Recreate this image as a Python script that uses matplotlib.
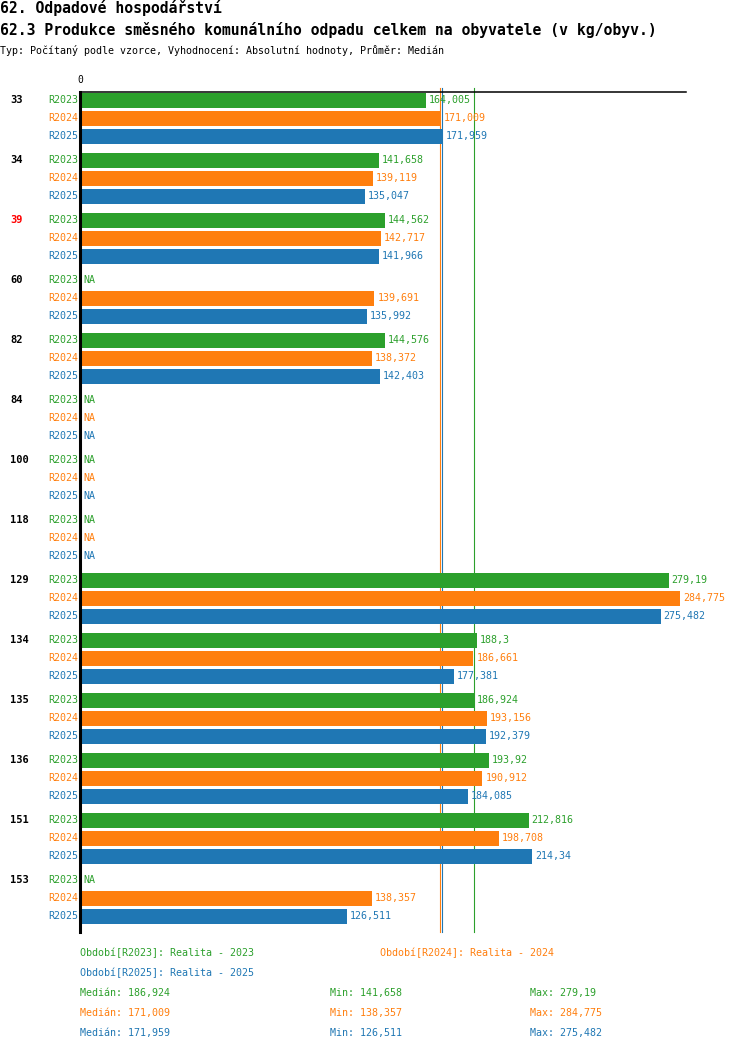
import numpy as np
import matplotlib
matplotlib.use("Agg")
import matplotlib.pyplot as plt

# Data (NaN = NA)
groups = ["33", "34", "39", "60", "82", "84", "100", "118", "129", "134", "135", "136", "151", "153"]
highlight = "39"
series_names = ["R2023", "R2024", "R2025"]
series_desc = ["Realita - 2023", "Realita - 2024", "Realita - 2025"]
r2023 = [164.005, 141.658, 144.562, np.nan, 144.576, np.nan, np.nan, np.nan, 279.19, 188.3, 186.924, 193.92, 212.816, np.nan]
r2024 = [171.009, 139.119, 142.717, 139.691, 138.372, np.nan, np.nan, np.nan, 284.775, 186.661, 193.156, 190.912, 198.708, 138.357]
r2025 = [171.959, 135.047, 141.966, 135.992, 142.403, np.nan, np.nan, np.nan, 275.482, 177.381, 192.379, 184.085, 214.34, 126.511]
series = [r2023, r2024, r2025]
colors = ["#2ca02c", "#ff7f0e", "#1f77b4"]

title1 = "62. Odpadové hospodářství"
title2 = "62.3 Produkce směsného komunálního odpadu celkem na obyvatele (v kg/obyv.)"
subtitle = "Typ: Počítaný podle vzorce, Vyhodnocení: Absolutní hodnoty, Průměr: Medián"

MONO = "DejaVu Sans Mono"
W, H = 750, 1052


def fmt(v):
    return str(v).replace(".", ",")


fig = plt.figure(figsize=(W / 100, H / 100), dpi=100)

# axes in pixel geometry: x 80..686, y 92..932
ax_left, ax_right, ax_top, ax_bot = 80, 686, 92, 932
ax = fig.add_axes([ax_left / W, 1 - ax_bot / H, (ax_right - ax_left) / W, (ax_bot - ax_top) / H])
px_per_unit = 2.108
ax.set_xlim(0, (ax_right - ax_left) / px_per_unit)
ax.set_ylim(ax_bot - ax_top, 0)  # y in pixels from the axes top
ax.set_xticks([])
ax.set_yticks([])
for s in ["right", "bottom"]:
    ax.spines[s].set_visible(False)
ax.spines["left"].set_linewidth(2.2)
ax.spines["left"].set_zorder(5)
ax.spines["top"].set_linewidth(1.1)

group_step, bar_step, bar_h, first = 60, 18, 15, 8

# medians (behind the bars)
for vals, c in zip(series, colors):
    med = np.nanmedian(vals)
    ax.plot([med, med], [-4, ax_bot - ax_top], color=c, lw=0.8, zorder=1, clip_on=False)

for gi, g in enumerate(groups):
    gy = first + gi * group_step
    ax.text(-70 / px_per_unit, gy, g, ha="left", va="center", fontsize=7.5,
            fontweight="bold", family=MONO, color="red" if g == highlight else "black")
    for si, (vals, c, name) in enumerate(zip(series, colors, series_names)):
        y = gy + si * bar_step
        v = vals[gi]
        ax.text(-2 / px_per_unit, y, name, ha="right", va="center", fontsize=7.2,
                family=MONO, color=c)
        if np.isnan(v):
            ax.text(3 / px_per_unit, y, "NA", ha="left", va="center", fontsize=7.2,
                    family=MONO, color=c)
        else:
            ax.barh(y, v, height=bar_h, color=c, zorder=2)
            ax.text(v + 3 / px_per_unit, y, fmt(v), ha="left", va="center", fontsize=7.2,
                    family=MONO, color=c, zorder=3)

ax.text(0, -12, "0", ha="center", va="center", fontsize=7, family=MONO)

# titles
fig.text(0, 1 - 8 / H, title1, ha="left", va="center", fontsize=10.6, family=MONO, fontweight="bold")
fig.text(0, 1 - 30 / H, title2, ha="left", va="center", fontsize=10.6, family=MONO, fontweight="bold")
fig.text(0, 1 - 50 / H, subtitle, ha="left", va="center", fontsize=7.2, family=MONO)

# legend / stats below
leg_pos = [(80, 953), (380, 953), (80, 973)]
for (x, y), name, desc, c in zip(leg_pos, series_names, series_desc, colors):
    fig.text(x / W, 1 - y / H, f"Období[{name}]: {desc}", ha="left", va="center",
             fontsize=7.2, family=MONO, color=c)

for si, (vals, c) in enumerate(zip(series, colors)):
    y = 993 + si * 20
    fig.text(80 / W, 1 - y / H, f"Medián: {fmt(round(float(np.nanmedian(vals)), 3))}",
             ha="left", va="center", fontsize=7.2, family=MONO, color=c)
    fig.text(330 / W, 1 - y / H, f"Min: {fmt(float(np.nanmin(vals)))}",
             ha="left", va="center", fontsize=7.2, family=MONO, color=c)
    fig.text(530 / W, 1 - y / H, f"Max: {fmt(float(np.nanmax(vals)))}",
             ha="left", va="center", fontsize=7.2, family=MONO, color=c)

fig.savefig("out.png", dpi=100)
